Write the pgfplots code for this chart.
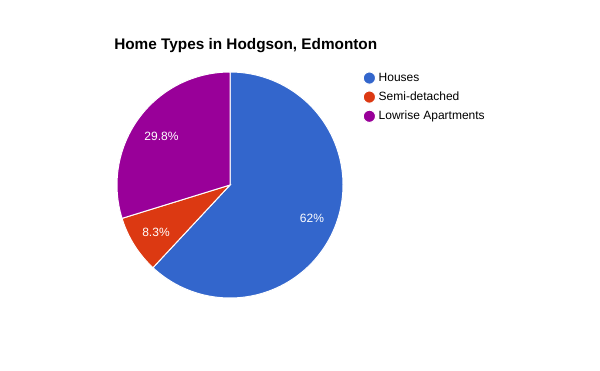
\documentclass[border=0pt]{standalone}
\usepackage{fontspec}
\setmainfont{Liberation Sans}
\usepackage{pgfplots}
\pgfplotsset{compat=1.18}
\definecolor{cHouses}{HTML}{3366CC}
\definecolor{cSemi}{HTML}{DC3912}
\definecolor{cLow}{HTML}{990099}
\begin{document}
\begin{tikzpicture}
\def\vA{62}\def\vB{8.3}\def\vC{29.8}
\pgfmathsetmacro{\tot}{\vA+\vB+\vC}
\pgfmathsetmacro{\aA}{90-360*(\vA/\tot)}
\pgfmathsetmacro{\aB}{\aA-360*(\vB/\tot)}
\pgfmathsetmacro{\aC}{\aB-360*(\vC/\tot)}
\useasboundingbox[fill=white] (0,0) rectangle (450pt,278.25pt);
\begin{axis}[
  at={(0,0)}, anchor=south west,
  scale only axis, width=450pt, height=278.25pt,
  xmin=0, xmax=600, ymin=0, ymax=371,
  axis lines=none, ticks=none, clip=false,
  legend style={at={(axis cs:362.5,301)}, anchor=north west, draw=none, fill=none,
    font=\fontsize{9}{11}\selectfont, row sep=2.4pt, inner sep=0pt,
    /tikz/every even column/.append style={column sep=4.5pt}},
  legend cell align=left,
  legend image code/.code={\fill[#1] (0.3em,0pt) circle (4.6pt);},
]
\addplot[fill=cHouses, draw=white, line width=0.75pt, domain=\aA:90, samples=120]
  ({230+113*cos(x)},{186+113*sin(x)}) -- (axis cs:230,186) -- cycle;
\addlegendentry{Houses}
\addplot[fill=cSemi, draw=white, line width=0.75pt, domain=\aB:\aA, samples=30]
  ({230+113*cos(x)},{186+113*sin(x)}) -- (axis cs:230,186) -- cycle;
\addlegendentry{Semi-detached}
\addplot[fill=cLow, draw=white, line width=0.75pt, domain=\aC:\aB, samples=60]
  ({230+113*cos(x)},{186+113*sin(x)}) -- (axis cs:230,186) -- cycle;
\addlegendentry{Lowrise Apartments}
\node[white, font=\fontsize{9}{11}\selectfont] at (axis cs:312,152.5) {62\%};
\node[white, font=\fontsize{9}{11}\selectfont] at (axis cs:156,138.5) {8.3\%};
\node[white, font=\fontsize{9}{11}\selectfont] at (axis cs:161.5,235) {29.8\%};
\node[anchor=base west, inner sep=0pt, font=\fontsize{11.5}{13}\selectfont\bfseries] at (axis cs:114,321) {Home Types in Hodgson, Edmonton};
\end{axis}
\end{tikzpicture}
\end{document}
